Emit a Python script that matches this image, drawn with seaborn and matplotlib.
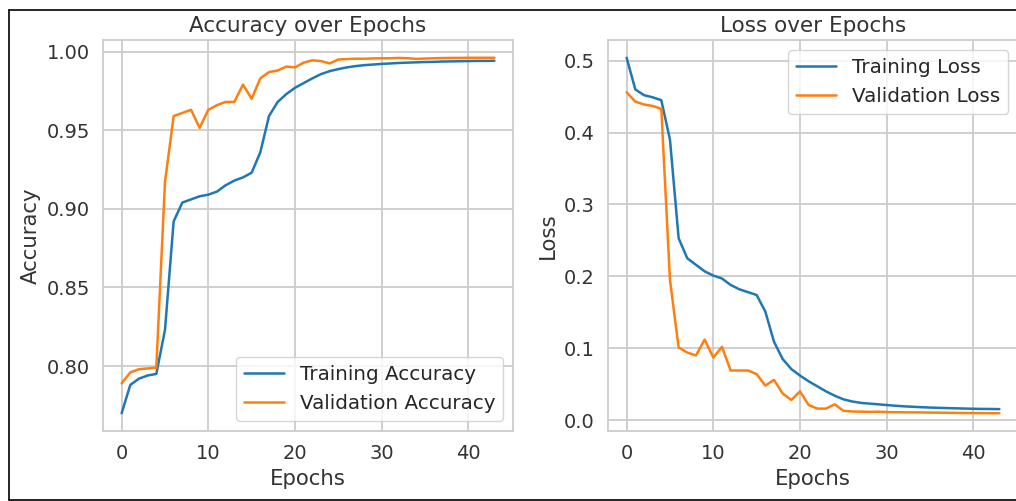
import matplotlib.pyplot as plt
from matplotlib.lines import Line2D
import seaborn as sns
import pandas as pd

# values
epochs = list(range(44))

train_acc = [0.770, 0.788, 0.792, 0.794, 0.795, 0.823, 0.892, 0.904, 0.906, 0.908,
             0.909, 0.911, 0.915, 0.918, 0.920, 0.923, 0.936, 0.959, 0.968, 0.973,
             0.977, 0.980, 0.983, 0.9857, 0.9876, 0.9889, 0.9900, 0.9908, 0.9914, 0.9918,
             0.9922, 0.9925, 0.9928, 0.9930, 0.9932, 0.9934, 0.9935, 0.9937, 0.9938, 0.9939,
             0.9940, 0.9941, 0.9941, 0.9942]
val_acc = [0.789, 0.796, 0.798, 0.7985, 0.799, 0.917, 0.959, 0.961, 0.963, 0.9515,
           0.963, 0.966, 0.968, 0.968, 0.979, 0.970, 0.983, 0.987, 0.988, 0.9905,
           0.990, 0.993, 0.9945, 0.994, 0.9925, 0.9950, 0.9953, 0.9955, 0.9955, 0.9957,
           0.9958, 0.9958, 0.9960, 0.9958, 0.9954, 0.9956, 0.9958, 0.9959, 0.9960, 0.9960,
           0.9961, 0.9961, 0.9961, 0.9961]

train_loss = [0.504, 0.460, 0.452, 0.449, 0.445, 0.390, 0.253, 0.225, 0.216, 0.207,
              0.201, 0.197, 0.188, 0.182, 0.178, 0.174, 0.151, 0.109, 0.085, 0.071,
              0.062, 0.054, 0.047, 0.040, 0.034, 0.029, 0.026, 0.024, 0.023, 0.022,
              0.0210, 0.0200, 0.0192, 0.0186, 0.0180, 0.0175, 0.0171, 0.0167, 0.0164, 0.0161,
              0.0158, 0.0156, 0.0155, 0.0153]
val_loss = [0.456, 0.443, 0.439, 0.437, 0.433, 0.195, 0.101, 0.094, 0.090, 0.112,
            0.087, 0.102, 0.069, 0.069, 0.069, 0.064, 0.048, 0.056, 0.037, 0.028,
            0.040, 0.021, 0.016, 0.016, 0.022, 0.013, 0.0120, 0.0118, 0.0115, 0.0117,
            0.0112, 0.0110, 0.0109, 0.0108, 0.0107, 0.0105, 0.0104, 0.0102, 0.0100, 0.0099,
            0.0098, 0.0097, 0.0096, 0.0096]

sns.set_theme(style="whitegrid", palette="tab10",
              rc={"grid.linewidth": 1.3, "axes.linewidth": 1.3})
plt.rcParams['font.family'] = ['DejaVu Sans']

acc_df = pd.DataFrame({
    "Epochs": epochs * 2,
    "value": train_acc + val_acc,
    "series": ["Training Accuracy"] * 44 + ["Validation Accuracy"] * 44,
})
loss_df = pd.DataFrame({
    "Epochs": epochs * 2,
    "value": train_loss + val_loss,
    "series": ["Training Loss"] * 44 + ["Validation Loss"] * 44,
})

W, H = 1016, 501
fig = plt.figure(figsize=(W / 100, H / 100), dpi=100)
ax1 = fig.add_axes([103 / W, 70 / H, 410 / W, 391 / H])
ax2 = fig.add_axes([608 / W, 70 / H, 410 / W, 391 / H])

tick_fs, legend_fs, label_fs, title_fs = 14, 14.3, 15.3, 15.5

sns.lineplot(data=acc_df, x="Epochs", y="value", hue="series", ax=ax1, linewidth=1.8)
ax1.set_title("Accuracy over Epochs", fontsize=title_fs)
ax1.set_xlabel("Epochs", fontsize=label_fs)
ax1.set_ylabel("Accuracy", fontsize=label_fs)
ax1.set_yticks([0.80, 0.85, 0.90, 0.95, 1.00])
ax1.legend(loc="lower right", fontsize=legend_fs)

sns.lineplot(data=loss_df, x="Epochs", y="value", hue="series", ax=ax2, linewidth=1.8)
ax2.set_title("Loss over Epochs", fontsize=title_fs)
ax2.set_xlabel("Epochs", fontsize=label_fs)
ax2.set_ylabel("Loss", fontsize=label_fs)
ax2.set_yticks([0.0, 0.1, 0.2, 0.3, 0.4, 0.5])
ax2.legend(loc="upper right", fontsize=legend_fs)

for ax in (ax1, ax2):
    ax.set_xticks([0, 10, 20, 30, 40])
    ax.tick_params(labelsize=tick_fs, colors="#333333")
    ax.xaxis.label.set_color("#333333")
    ax.yaxis.label.set_color("#333333")
    ax.title.set_color("#333333")

# black frame around the screenshot
lw = 1.2
fig.add_artist(Line2D([8.5 / W, 8.5 / W], [1 - 9.5 / H, 1 - 500 / H], color="black", lw=lw))
fig.add_artist(Line2D([8.5 / W, 1], [1 - 9.5 / H, 1 - 9.5 / H], color="black", lw=lw))
fig.add_artist(Line2D([8.5 / W, 1], [1 - 500 / H, 1 - 500 / H], color="black", lw=lw))

fig.savefig("out.png", dpi=100)
